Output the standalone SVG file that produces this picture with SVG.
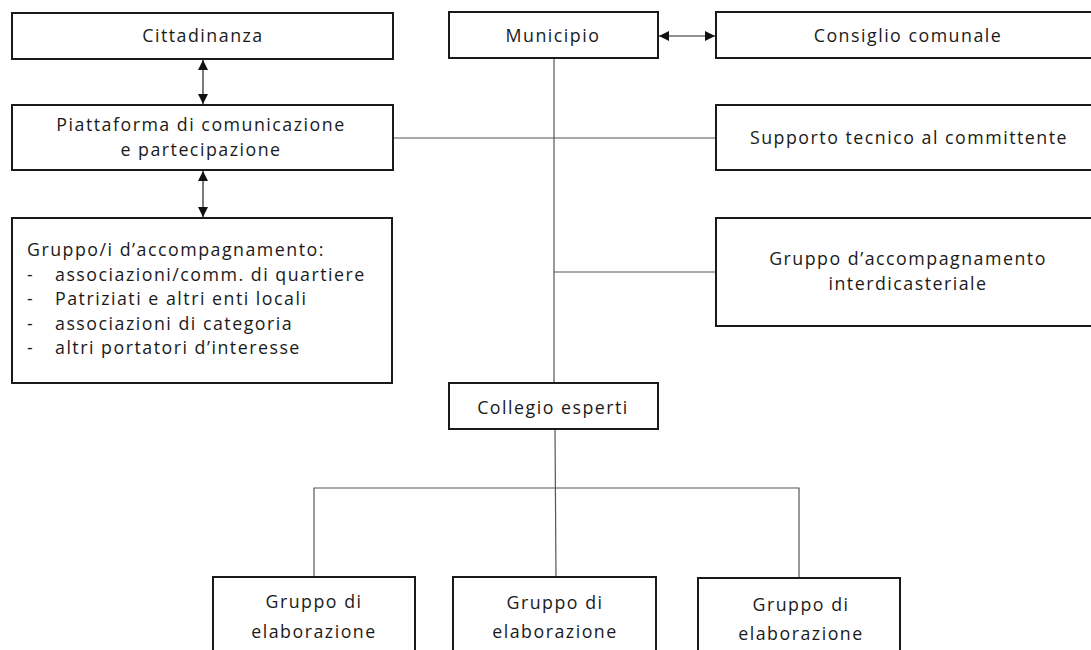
<svg xmlns="http://www.w3.org/2000/svg" width="1091" height="650" viewBox="0 0 1091 650">
<style>
.box{fill:#fff;stroke:#1a1a1a;stroke-width:2}
.conn{fill:none;stroke:#555;stroke-width:1.2}
.arr{fill:none;stroke:#222;stroke-width:1.2}
text{font-family:"Open Sans","Liberation Sans",sans-serif;font-size:17.8px;letter-spacing:1.5px;fill:#1a1a1a}
.c{text-anchor:middle}
</style>
<defs>
<marker id="ah" viewBox="0 0 10 10" refX="10" refY="5" markerWidth="10" markerHeight="10" markerUnits="userSpaceOnUse" orient="auto-start-reverse">
<path d="M0,0 L10,5 L0,10 Z" fill="#111"/>
</marker>
</defs>
<rect width="1091" height="650" fill="#fff"/>
<g id="connectors">
<line class="arr" x1="203" y1="60" x2="203" y2="104" marker-start="url(#ah)" marker-end="url(#ah)"/>
<line class="arr" x1="203" y1="171" x2="203" y2="217" marker-start="url(#ah)" marker-end="url(#ah)"/>
<line class="arr" x1="659" y1="36" x2="715" y2="36" marker-start="url(#ah)" marker-end="url(#ah)"/>
<line class="conn" x1="554" y1="58" x2="554" y2="383"/>
<line class="conn" x1="393" y1="138" x2="716" y2="138"/>
<line class="conn" x1="554" y1="272" x2="716" y2="272"/>
<path class="conn" d="M555,429 L556,577"/>
<path class="conn" d="M314,577 L314,488 L799,488 L799,578"/>
</g>
<g id="cittadinanza"><rect class="box" x="12" y="13" width="381" height="46"/><text class="c" x="203" y="42">Cittadinanza</text></g>
<g id="piattaforma"><rect class="box" x="12" y="105" width="381" height="65"/><text class="c"><tspan x="201" y="131">Piattaforma di comunicazione</tspan><tspan x="201" y="156">e partecipazione</tspan></text></g>
<g id="gruppi-accompagnamento"><rect class="box" x="12" y="218" width="380" height="165"/>
<text><tspan x="27" y="256">Gruppo/i d’accompagnamento:</tspan><tspan x="27" y="280.5">-</tspan><tspan x="55" y="280.5">associazioni/comm. di quartiere</tspan><tspan x="27" y="305">-</tspan><tspan x="55" y="305">Patriziati e altri enti locali</tspan><tspan x="27" y="329.5">-</tspan><tspan x="55" y="329.5">associazioni di categoria</tspan><tspan x="27" y="354">-</tspan><tspan x="55" y="354">altri portatori d’interesse</tspan></text>
</g>
<g id="municipio"><rect class="box" x="449" y="12" width="209" height="46"/><text class="c" x="553" y="42">Municipio</text></g>
<g id="consiglio"><rect class="box" x="716" y="12" width="390" height="46"/><text class="c" x="908" y="42">Consiglio comunale</text></g>
<g id="supporto"><rect class="box" x="716" y="105" width="390" height="65"/><text class="c" x="909" y="144">Supporto tecnico al committente</text></g>
<g id="gruppo-interdicasteriale"><rect class="box" x="716" y="218" width="390" height="108"/><text class="c"><tspan x="908" y="265">Gruppo d’accompagnamento</tspan><tspan x="908" y="290">interdicasteriale</tspan></text></g>
<g id="collegio"><rect class="box" x="449" y="383" width="209" height="46"/><text class="c" x="553" y="414">Collegio esperti</text></g>
<g id="gruppo-elab-1"><rect class="box" x="213" y="577" width="202" height="90"/><text class="c"><tspan x="314" y="608">Gruppo di</tspan><tspan x="314" y="638">elaborazione</tspan></text></g>
<g id="gruppo-elab-2"><rect class="box" x="453" y="577" width="203" height="90"/><text class="c"><tspan x="555" y="609">Gruppo di</tspan><tspan x="555" y="638">elaborazione</tspan></text></g>
<g id="gruppo-elab-3"><rect class="box" x="698" y="578" width="202" height="90"/><text class="c"><tspan x="801" y="611">Gruppo di</tspan><tspan x="801" y="640">elaborazione</tspan></text></g>
</svg>
